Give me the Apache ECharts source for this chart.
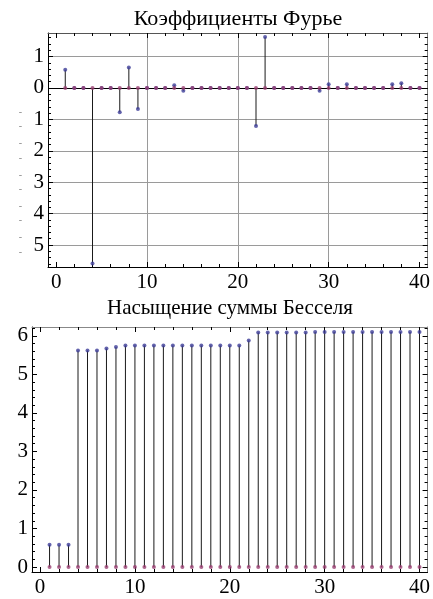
<!DOCTYPE html>
<html>
<head>
<meta charset="utf-8">
<script src="https://cdn.jsdelivr.net/npm/echarts@6/dist/echarts.min.js"></script>
<style>html,body{margin:0;padding:0;background:#fff}#c{width:433px;height:599px}</style>
</head>
<body>
<div id="c"></div>
<script>
// ---- data ----
const xs = [1,2,3,4,5,6,7,8,9,10,11,12,13,14,15,16,17,18,19,20,21,22,23,24,25,26,27,28,29,30,31,32,33,34,35,36,37,38,39,40];
const fourier = [0.58,0,0,-5.59,0,0,-0.77,0.65,-0.67,0,0,0,0.09,-0.09,0,0,0,0,0,0,0,-1.21,1.62,0,0,0,0,0,-0.09,0.12,0,0.12,0,0,0,0,0.12,0.15,0,0];
const bessel = [0.58,0.58,0.58,5.62,5.62,5.62,5.67,5.71,5.75,5.75,5.75,5.75,5.75,5.75,5.75,5.75,5.75,5.75,5.75,5.75,5.75,5.88,6.09,6.09,6.09,6.09,6.09,6.09,6.10,6.10,6.10,6.10,6.10,6.10,6.10,6.10,6.10,6.10,6.10,6.10];
const zeros = [0,0,0,0,0,0,0,0,0,0,0,0,0,0,0,0,0,0,0,0,0,0,0,0,0,0,0,0,0,0,0,0,0,0,0,0,0,0,0,0];
const titles = ['Коэффициенты Фурье', 'Насыщение суммы Бесселя'];
const xMajor = [0,10,20,30,40];
const xGrid = [10,20,30];
const yMajorTop = [-5,-4,-3,-2,-1,0,1];
const yMajorBot = [0,1,2,3,4,5,6];
const dashVals = [-0.77,-1.23,-1.77,-2.23,-2.77,-3.23,-3.77,-4.23,-4.77,-5.23];

function minors(lo, hi, step, major) {
  const out = [];
  const n0 = Math.ceil(lo / step - 1e-9), n1 = Math.floor(hi / step + 1e-9);
  for (let n = n0; n <= n1; n++) {
    const v = +(n * step).toFixed(6);
    if (Math.abs(v / major - Math.round(v / major)) > 1e-6) out.push(v);
  }
  return out;
}

const FONT = 'Liberation Serif';
const BLUE = '#3d3d99';
const MAG = '#993d71';
const pair = (a, b) => a.map((v, i) => [v, b[i]]);

const G = [
  {left:48, right:5, top:33, height:234, xmin:-0.9, xmax:40.9, ymin:-5.70, ymax:1.75, yMajor:yMajorTop},
  {left:32, right:5, top:327, height:245, xmin:-0.85, xmax:40.85, ymin:-0.13, ymax:6.23, yMajor:yMajorBot}
];

const xAxis = [], yAxis = [], series = [];
const labelStyle = {fontFamily: FONT, fontSize: 21, color: '#000'};

G.forEach((g, gi) => {
  const xMin = minors(g.xmin, g.xmax, 2, 10);
  const yMin = minors(g.ymin, g.ymax, 0.2, 1);
  const bx = xAxis.length, by = yAxis.length;
  const base = {type:'value', gridIndex:gi, min:g.xmin, max:g.xmax, splitLine:{show:false}};
  // x axes
  xAxis.push(Object.assign({}, base, {position:'bottom',
    axisLine:{show:true, onZero:false, lineStyle:{color:'#000', width:1}},
    axisTick:{show:true, inside:true, length:5, customValues:xMajor, lineStyle:{color:'#000'}},
    axisLabel:{show:true, customValues:xMajor, margin:5, ...labelStyle}}));
  xAxis.push(Object.assign({}, base, {position:'bottom',
    axisLine:{show:false, onZero:false},
    axisTick:{show:true, inside:true, length:3, customValues:xMin, lineStyle:{color:'#000'}},
    axisLabel:{show:false}}));
  xAxis.push(Object.assign({}, base, {position:'top',
    axisLine:{show:true, onZero:false, lineStyle:{color: gi === 0 ? '#555' : '#888', width:1}},
    axisTick:{show:true, inside:true, length:5, customValues:xMajor, lineStyle:{color:'#000'}},
    axisLabel:{show:false}}));
  xAxis.push(Object.assign({}, base, {position:'top',
    axisLine:{show:false, onZero:false},
    axisTick:{show:true, inside:true, length:3, customValues:xMin, lineStyle:{color:'#000'}},
    axisLabel:{show:false}}));
  if (gi === 0) {
    xAxis.push(Object.assign({}, base, {position:'bottom',
      axisLine:{show:false, onZero:false},
      axisTick:{show:false, customValues:xGrid},
      axisLabel:{show:false},
      splitLine:{show:true, lineStyle:{color:'#9a9a9a', width:1}}}));
  }
  // y axes
  const ybase = {type:'value', gridIndex:gi, min:g.ymin, max:g.ymax, splitLine:{show:false}};
  yAxis.push(Object.assign({}, ybase, {position:'left',
    axisLine:{show:true, onZero:false, lineStyle:{color:'#000', width:1}},
    axisTick:{show:true, inside:true, length:5, customValues:g.yMajor, lineStyle:{color:'#000'}},
    axisLabel:{show:true, customValues:g.yMajor, margin:4, formatter: v => String(Math.abs(v)), ...labelStyle}}));
  yAxis.push(Object.assign({}, ybase, {position:'left',
    axisLine:{show:false, onZero:false},
    axisTick:{show:true, inside:true, length:3, customValues:yMin, lineStyle:{color:'#000'}},
    axisLabel:{show:false}}));
  yAxis.push(Object.assign({}, ybase, {position:'right',
    axisLine:{show:true, onZero:false, lineStyle:{color:'#777', width:1}},
    axisTick:{show:true, inside:true, length:5, customValues:g.yMajor, lineStyle:{color:'#000'}},
    axisLabel:{show:false}}));
  yAxis.push(Object.assign({}, ybase, {position:'right',
    axisLine:{show:false, onZero:false},
    axisTick:{show:true, inside:true, length:3, customValues:yMin, lineStyle:{color:'#000'}},
    axisLabel:{show:false}}));
  if (gi === 0) {
    yAxis.push(Object.assign({}, ybase, {position:'left',
      axisLine:{show:false, onZero:false},
      axisTick:{show:false, customValues:g.yMajor},
      axisLabel:{show:false},
      splitLine:{show:true, lineStyle:{color:'#9a9a9a', width:1}}}));
    yAxis.push(Object.assign({}, ybase, {position:'left',
      axisLine:{show:false, onZero:false},
      axisTick:{show:false},
      axisLabel:{show:true, customValues:dashVals, margin:26, formatter: () => '-', fontFamily:FONT, fontSize:10, color:'#888'}}));
  }
  const vals = gi === 0 ? fourier : bessel;
  const bar = {type:'bar', xAxisIndex:bx, yAxisIndex:by, data:pair(xs, vals), barWidth:1,
    itemStyle:{color:'#1a1a1a'}, silent:true};
  if (gi === 0) {
    bar.markLine = {silent:true, symbol:['none','none'], z:1, label:{show:false},
      lineStyle:{color:'#000', width:1, type:'solid'}, data:[{yAxis:0}]};
  }
  series.push(bar);
  series.push({type:'scatter', xAxisIndex:bx, yAxisIndex:by, data:pair(xs, vals), symbolSize:4,
    itemStyle:{color:BLUE}, silent:true});
  series.push({type:'scatter', xAxisIndex:bx, yAxisIndex:by, data:pair(xs, zeros), symbolSize:4,
    itemStyle:{color:MAG}, silent:true});
});

const chart = echarts.init(document.getElementById('c'), null, {renderer:'canvas'});
chart.setOption({
  animation:false,
  backgroundColor:'#fff',
  title:[
    {text:titles[0], left:238, textAlign:'center', top:8, padding:0, textStyle:{fontFamily:FONT, fontSize:22, fontWeight:'normal', color:'#000'}},
    {text:titles[1], left:230, textAlign:'center', top:298, padding:0, textStyle:{fontFamily:FONT, fontSize:21, fontWeight:'normal', color:'#000'}}
  ],
  grid: G.map(g => ({left:g.left, right:g.right, top:g.top, height:g.height, containLabel:false})),
  xAxis, yAxis, series
});
</script>
</body>
</html>
